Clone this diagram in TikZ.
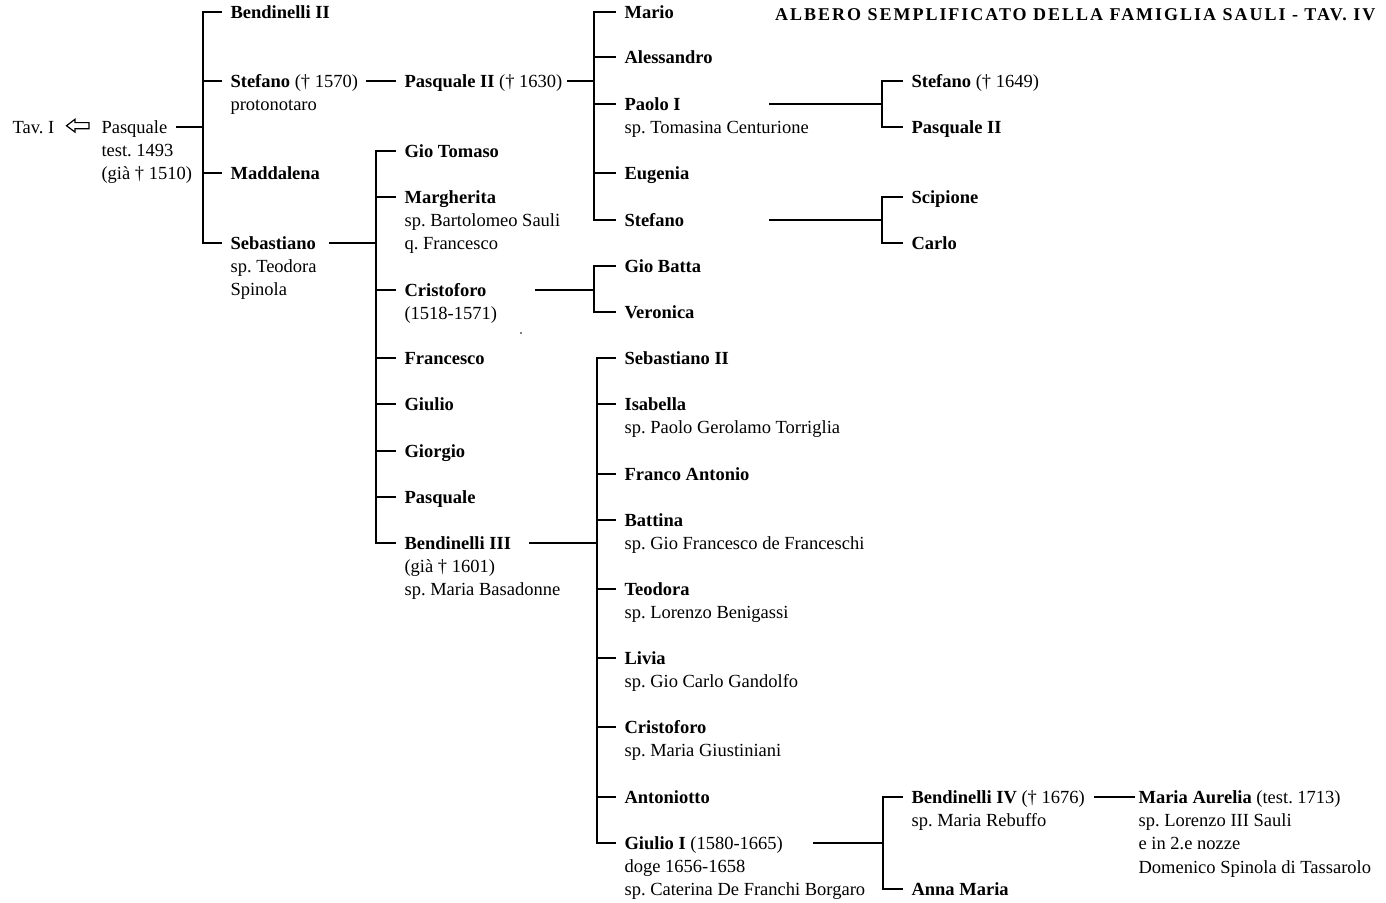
\documentclass[tikz,border=0pt]{standalone}
\usepackage{fontspec}
\setmainfont{Liberation Serif}
\frenchspacing
\newcommand\famfs{\fontsize{18.5}{23.2}\selectfont\frenchspacing}
\newcommand\kid[4]{\node[nm] (#1) at (#2,#3) {#4};}
\newcommand\fsub[3]{\node[sub] (#1) at ([xshift=8pt,yshift=-23.2pt]#2.base west) {#3};}
\newcommand\nsub[3]{\node[sub] (#1) at ([yshift=-23.2pt]#2.base west) {#3};}
\begin{document}
\begin{tikzpicture}[x=1pt,y=-1pt,line width=1.1pt,
  nm/.style={anchor=west,inner xsep=8pt,inner ysep=0pt,text height=15pt,text depth=2pt,font=\famfs},
  sub/.style={anchor=base west,inner sep=0pt,font=\famfs},
  ttl/.style={anchor=base east,inner sep=0pt,font=\fontsize{18}{20}\selectfont\bfseries\addfontfeatures{LetterSpace=11}}]
\useasboundingbox (0,0) rectangle (1386,902);

% title
\node[ttl] (title) at (1376,20.7) {ALBERO SEMPLIFICATO DELLA FAMIGLIA SAULI - TAV. IV};

% generation 0
\node[nm,inner xsep=0pt] (tav) at (12,127) {Tav. I};
\draw[line width=1.2pt,line join=miter] (66.5,125.7) -- (75,119.3) -- (75,122.6) -- (89,122.6) -- (89,128.8) -- (75,128.8) -- (75,132.1) -- cycle;
\kid{pasq}{93}{127}{Pasquale}
\fsub{pasqa}{pasq}{test. 1493}
\nsub{pasqb}{pasqa}{(già † 1510)}
\coordinate (pasqL) at (176,127);

% generation 1
\coordinate (b1) at (203,0);
\kid{bII}{222}{12}{\textbf{Bendinelli II}}
\kid{stI}{222}{81}{\textbf{Stefano} († 1570)}
\fsub{stIa}{stI}{protonotaro}
\kid{madd}{222}{173}{\textbf{Maddalena}}
\kid{seb}{222}{243}{\textbf{Sebastiano}}
\fsub{seba}{seb}{sp. Teodora}
\nsub{sebb}{seba}{Spinola}
\draw (pasqL) -- (b1 |- pasqL);
\draw (bII.west) -- (b1 |- bII.west) -- (b1 |- seb.west) -- (seb.west);
\foreach \c in {stI,madd} \draw (b1 |- \c.west) -- (\c.west);

% Stefano -> Pasquale II
\coordinate (stL) at (366,81);
\kid{pqII}{396}{81}{\textbf{Pasquale II} († 1630)}
\draw (stL) -- (pqII.west);

% children of Pasquale II
\coordinate (pqIIL) at (567,81);
\coordinate (b2) at (594,0);
\kid{mario}{616}{12}{\textbf{Mario}}
\kid{aless}{616}{57}{\textbf{Alessandro}}
\kid{paolo}{616}{104}{\textbf{Paolo I}}
\fsub{paoloa}{paolo}{sp. Tomasina Centurione}
\kid{eug}{616}{173}{\textbf{Eugenia}}
\kid{stII}{616}{220}{\textbf{Stefano}}
\draw (pqIIL) -- (b2 |- pqIIL);
\draw (mario.west) -- (b2 |- mario.west) -- (b2 |- stII.west) -- (stII.west);
\foreach \c in {aless,paolo,eug} \draw (b2 |- \c.west) -- (\c.west);

% children of Paolo I
\coordinate (paoloL) at (769,104);
\coordinate (b3) at (882,0);
\kid{stIII}{903}{81}{\textbf{Stefano} († 1649)}
\kid{pqIII}{903}{127}{\textbf{Pasquale II}}
\draw (paoloL) -- (b3 |- paoloL);
\draw (stIII.west) -- (b3 |- stIII.west) -- (b3 |- pqIII.west) -- (pqIII.west);

% children of Stefano
\coordinate (stIIL) at (769,220);
\kid{scip}{903}{197}{\textbf{Scipione}}
\kid{carlo}{903}{243}{\textbf{Carlo}}
\draw (stIIL) -- (b3 |- stIIL);
\draw (scip.west) -- (b3 |- scip.west) -- (b3 |- carlo.west) -- (carlo.west);

% children of Sebastiano
\coordinate (sebL) at (329,243);
\coordinate (b5) at (376,0);
\kid{gtom}{396}{151}{\textbf{Gio Tomaso}}
\kid{marg}{396}{197}{\textbf{Margherita}}
\fsub{marga}{marg}{sp. Bartolomeo Sauli}
\nsub{margb}{marga}{q. Francesco}
\kid{crI}{396}{290}{\textbf{Cristoforo}}
\fsub{crIa}{crI}{(1518-1571)}
\kid{franc}{396}{358}{\textbf{Francesco}}
\kid{giul}{396}{404}{\textbf{Giulio}}
\kid{giorg}{396}{451}{\textbf{Giorgio}}
\kid{pqIV}{396}{497}{\textbf{Pasquale}}
\kid{bIII}{396}{543}{\textbf{Bendinelli III}}
\fsub{bIIIa}{bIII}{(già † 1601)}
\nsub{bIIIb}{bIIIa}{sp. Maria Basadonne}
\draw (sebL) -- (b5 |- sebL);
\draw (gtom.west) -- (b5 |- gtom.west) -- (b5 |- bIII.west) -- (bIII.west);
\foreach \c in {marg,crI,franc,giul,giorg,pqIV} \draw (b5 |- \c.west) -- (\c.west);

% children of Cristoforo
\coordinate (crL) at (535,290);
\kid{gb}{616}{266}{\textbf{Gio Batta}}
\kid{ver}{616}{312}{\textbf{Veronica}}
\draw (crL) -- (b2 |- crL);
\draw (gb.west) -- (b2 |- gb.west) -- (b2 |- ver.west) -- (ver.west);
\fill (521,333) circle (0.8);

% children of Bendinelli III
\coordinate (bIIIL) at (529,543);
\coordinate (b7) at (597,0);
\kid{sebII}{616}{358}{\textbf{Sebastiano II}}
\kid{isab}{616}{404}{\textbf{Isabella}}
\fsub{isaba}{isab}{sp. Paolo Gerolamo Torriglia}
\kid{fa}{616}{474}{\textbf{Franco Antonio}}
\kid{batt}{616}{520}{\textbf{Battina}}
\fsub{batta}{batt}{sp. Gio Francesco de Franceschi}
\kid{teo}{616}{589}{\textbf{Teodora}}
\fsub{teoa}{teo}{sp. Lorenzo Benigassi}
\kid{livia}{616}{658}{\textbf{Livia}}
\fsub{liviaa}{livia}{sp. Gio Carlo Gandolfo}
\kid{crII}{616}{727}{\textbf{Cristoforo}}
\fsub{crIIa}{crII}{sp. Maria Giustiniani}
\kid{anton}{616}{797}{\textbf{Antoniotto}}
\kid{giulio}{616}{843}{\textbf{Giulio I} (1580-1665)}
\fsub{giulioa}{giulio}{doge 1656-1658}
\nsub{giuliob}{giulioa}{sp. Caterina De Franchi Borgaro}
\draw (bIIIL) -- (b7 |- bIIIL);
\draw (sebII.west) -- (b7 |- sebII.west) -- (b7 |- giulio.west) -- (giulio.west);
\foreach \c in {isab,fa,batt,teo,livia,crII,anton} \draw (b7 |- \c.west) -- (\c.west);

% children of Giulio I
\coordinate (giulioL) at (813,843);
\coordinate (b8) at (883,0);
\kid{bIV}{903}{797}{\textbf{Bendinelli IV} († 1676)}
\fsub{bIVa}{bIV}{sp. Maria Rebuffo}
\kid{anna}{903}{889}{\textbf{Anna Maria}}
\draw (giulioL) -- (b8 |- giulioL);
\draw (bIV.west) -- (b8 |- bIV.west) -- (b8 |- anna.west) -- (anna.west);

% Bendinelli IV -> Maria Aurelia
\coordinate (bIVL) at (1094,797);
\kid{maria}{1130}{797}{\textbf{Maria Aurelia} (test. 1713)}
\fsub{mariaa}{maria}{sp. Lorenzo III Sauli}
\nsub{mariab}{mariaa}{e in 2.e nozze}
\nsub{mariac}{mariab}{Domenico Spinola di Tassarolo}
\draw (bIVL) -- ([xshift=5pt]maria.west);
\end{tikzpicture}
\end{document}
